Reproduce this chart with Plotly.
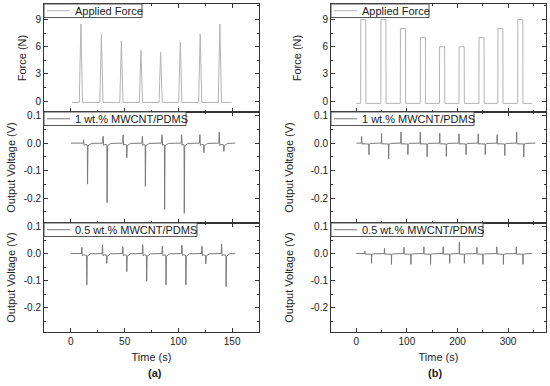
import plotly.graph_objects as go

# ---------------- data ----------------
# (a) applied force: triangular peaks
a_force_peak_t = [9.3, 28.4, 47.0, 65.2, 83.5, 101.8, 120.3, 138.6]
a_force_peak_v = [8.5, 7.4, 6.6, 5.6, 5.4, 6.5, 7.4, 8.5]
a_force_span = [1.0, 149.4]
a_force_base = -0.15

# (a) 1 wt.% MWCNT/PDMS
a1_pos_t = [11.8, 30.0, 48.6, 66.5, 84.8, 103.0, 120.0, 138.0]
a1_pos_v = [0.012, 0.025, 0.030, 0.025, 0.030, 0.030, 0.031, 0.040]
a1_neg_t = [15.5, 33.7, 52.0, 69.3, 87.2, 105.5, 123.7, 142.3]
a1_neg_v = [-0.149, -0.216, -0.053, -0.157, -0.241, -0.255, -0.035, -0.030]
a1_span = [0.0, 152.8]

# (a) 0.5 wt.% MWCNT/PDMS
a05_pos_t = [10.2, 29.4, 48.3, 66.8, 85.1, 103.3, 121.9, 140.2]
a05_pos_v = [0.023, 0.032, 0.026, 0.033, 0.028, 0.031, 0.027, 0.036]
a05_neg_t = [14.8, 33.4, 52.0, 70.5, 88.5, 107.0, 125.5, 144.4]
a05_neg_v = [-0.116, -0.036, -0.067, -0.102, -0.116, -0.116, -0.038, -0.122]
a05_span = [0.0, 152.8]

# (b) applied force: square pulses
b_pulse_start = [8.6, 48.5, 87.0, 126.5, 164.4, 203.0, 242.4, 279.7, 319.0]
b_pulse_end = [19.0, 58.8, 97.6, 137.0, 175.0, 213.6, 252.8, 290.0, 329.5]
b_pulse_v = [9, 9, 8, 7, 6, 6, 7, 8, 9]
b_force_span = [0.0, 347.7]
b_force_base = -0.25

# (b) 1 wt.% MWCNT/PDMS
b1_pos_t = [10.6, 49.9, 88.4, 126.5, 165.0, 203.0, 241.0, 278.4, 317.0]
b1_pos_v = [0.024, 0.036, 0.040, 0.040, 0.036, 0.034, 0.034, 0.030, 0.040]
b1_neg_t = [25.0, 64.0, 102.0, 140.0, 178.0, 217.0, 255.0, 293.5, 331.0]
b1_neg_v = [-0.042, -0.057, -0.042, -0.050, -0.048, -0.042, -0.042, -0.045, -0.050]
b1_span = [0.0, 354.0]

# (b) 0.5 wt.% MWCNT/PDMS
b05_pos_t = [17.1, 55.7, 94.3, 133.6, 171.7, 203.7, 238.5, 277.8, 316.3]
b05_pos_v = [0.009, 0.020, 0.023, 0.025, 0.025, 0.042, 0.023, 0.025, 0.025]
b05_neg_t = [30.2, 69.5, 108.0, 146.8, 184.7, 213.6, 250.3, 290.8, 329.5]
b05_neg_v = [-0.036, -0.040, -0.040, -0.040, -0.036, -0.036, -0.040, -0.040, -0.040]
b05_span = [0.0, 347.8]

force_ticks = [0, 3, 6, 9]
volt_ticks = [-0.2, -0.1, 0.0, 0.1]
volt_ticktext = ["-0.2", "-0.1", "0.0", "0.1"]
a_time_ticks = [0, 50, 100, 150]
b_time_ticks = [0, 100, 200, 300]


# ---------------- helpers to build polylines ----------------
def tri_force(peak_t, peak_v, span, base, hw=1.5):
    xs, ys = [span[0]], [base]
    for t, v in zip(peak_t, peak_v):
        xs += [t - hw, t, t + hw]
        ys += [base, v, base]
    xs.append(span[1]); ys.append(base)
    return xs, ys


def pulse_force(starts, ends, vals, span, base):
    xs, ys = [span[0]], [base]
    for s, e, v in zip(starts, ends, vals):
        xs += [s, s + 0.3, e - 0.3, e]
        ys += [base, v, v, base]
    xs.append(span[1]); ys.append(base)
    return xs, ys


def voltage(pos_t, pos_v, neg_t, neg_v, span, dip=-0.008):
    xs, ys = [span[0]], [0.0]
    for tp, vp, tn, vn in zip(pos_t, pos_v, neg_t, neg_v):
        gap = tn - tp
        xs += [tp - 0.4, tp, tp + 0.5, tp + min(1.5, gap * 0.4), tn - 0.2, tn, tn + 0.4, tn + 3.5]
        ys += [0.0, vp, dip, dip * 0.6, dip * 0.8, vn, dip * 1.2, -0.001]
    xs.append(span[1]); ys.append(0.0)
    return xs, ys


FORCE_COL = "#b4b4b4"
VOLT_COL = "#7a7a7a"
FONT = "Liberation Sans, Arial, sans-serif"
W, H = 550, 386

fig = go.Figure()

traces = [
    ("x", "y", *tri_force(a_force_peak_t, a_force_peak_v, a_force_span, a_force_base), "Applied Force", FORCE_COL),
    ("x2", "y2", *voltage(a1_pos_t, a1_pos_v, a1_neg_t, a1_neg_v, a1_span), "1 wt.% MWCNT/PDMS", VOLT_COL),
    ("x3", "y3", *voltage(a05_pos_t, a05_pos_v, a05_neg_t, a05_neg_v, a05_span), "0.5 wt.% MWCNT/PDMS", VOLT_COL),
    ("x4", "y4", *pulse_force(b_pulse_start, b_pulse_end, b_pulse_v, b_force_span, b_force_base), "Applied Force", FORCE_COL),
    ("x5", "y5", *voltage(b1_pos_t, b1_pos_v, b1_neg_t, b1_neg_v, b1_span, dip=-0.004), "1 wt.% MWCNT/PDMS", VOLT_COL),
    ("x6", "y6", *voltage(b05_pos_t, b05_pos_v, b05_neg_t, b05_neg_v, b05_span, dip=-0.003), "0.5 wt.% MWCNT/PDMS", VOLT_COL),
]

for xa, ya, xs, ys, name, col in traces:
    fig.add_trace(go.Scatter(x=xs, y=ys, mode="lines", name=name, xaxis=xa, yaxis=ya,
                             line=dict(color=col, width=1), showlegend=False))

# domains (pixels -> paper)
xdom_px = [[44, 259], [331, 546]]
ydom_px = [[4, 112], [112, 223], [223, 332]]
xdom = [[a / W, b / W] for a, b in xdom_px]
ydoms = [[1 - b / H, 1 - a / H] for a, b in ydom_px]

axis_common = dict(showline=True, linecolor="#333333", linewidth=1, mirror="ticks",
                   ticks="inside", ticklen=4, tickcolor="#333333", showgrid=False, zeroline=False,
                   automargin=False, tickfont=dict(family=FONT, size=10, color="#222222"))
minor_x = dict(ticks="inside", ticklen=2, tickcolor="#333333")

layout = dict(
    width=W, height=H, margin=dict(l=0, r=0, t=0, b=0),
    paper_bgcolor="white", plot_bgcolor="white", font=dict(family=FONT, color="#222222"),
    showlegend=False,
)

# x axes
for i, (rng, ticks, mdt) in enumerate([([-25, 175], a_time_ticks, 25), ([-50, 375], b_time_ticks, 50)]):
    for j in range(3):
        k = i * 3 + j + 1
        name = "xaxis" if k == 1 else f"xaxis{k}"
        yname = "y" if k == 1 else f"y{k}"
        ax = dict(axis_common, domain=xdom[i], range=rng, anchor=yname, tickvals=ticks,
                  minor=dict(minor_x, dtick=mdt), showticklabels=(j == 2))
        if j == 2:
            ax["title"] = dict(text="Time (s)", font=dict(family=FONT, size=11), standoff=7)
        layout[name] = ax

# y axes
for i in range(2):
    for j in range(3):
        k = i * 3 + j + 1
        name = "yaxis" if k == 1 else f"yaxis{k}"
        xname = "x" if k == 1 else f"x{k}"
        if j == 0:
            so = 6 if i == 0 else 18
            ax = dict(axis_common, domain=ydoms[j], range=[-1.2, 10.7], anchor=xname,
                      tickvals=force_ticks, minor=dict(minor_x, dtick=1.5),
                      title=dict(text="Force (N)", font=dict(family=FONT, size=11), standoff=so))
        else:
            so = 5 if i == 0 else 14
            ax = dict(axis_common, domain=ydoms[j], range=[-0.29, 0.113], anchor=xname,
                      tickvals=volt_ticks, ticktext=volt_ticktext, minor=dict(minor_x, dtick=0.05),
                      title=dict(text="Output Voltage (V)", font=dict(family=FONT, size=11), standoff=so))
        layout[name] = ax

fig.update_layout(**layout)

# legend boxes (one per panel, top-left corner), drawn as shape + sample line + text
legend_right_px = [[142, 186, 197], [429, 474, 483]]
legend_labels = ["Applied Force", "1 wt.% MWCNT/PDMS", "0.5 wt.% MWCNT/PDMS"]
legend_cols = [FORCE_COL, VOLT_COL, VOLT_COL]
for i in range(2):
    for j in range(3):
        x0 = xdom_px[i][0]
        x1 = legend_right_px[i][j]
        y0 = ydom_px[j][0]
        y1 = y0 + 13.5
        ym = (y0 + y1) / 2
        fig.add_shape(type="rect", xref="paper", yref="paper",
                      x0=x0 / W, x1=x1 / W, y0=1 - y1 / H, y1=1 - y0 / H,
                      line=dict(color="#555555", width=1), fillcolor="white", layer="above")
        fig.add_shape(type="line", xref="paper", yref="paper",
                      x0=(x0 + 3) / W, x1=(x0 + 26) / W, y0=1 - ym / H, y1=1 - ym / H,
                      line=dict(color=legend_cols[j], width=1), layer="above")
        fig.add_annotation(text=legend_labels[j], xref="paper", yref="paper",
                           x=(x0 + 28.5) / W, y=1 - (ym + 0.5) / H, xanchor="left", yanchor="middle",
                           showarrow=False, font=dict(family=FONT, size=11, color="#222222"))

fig.add_annotation(text="<b>(a)</b>", x=155 / W, y=1 - 373 / H, xref="paper", yref="paper",
                   xanchor="center", yanchor="middle",
                   showarrow=False, font=dict(family=FONT, size=11))
fig.add_annotation(text="<b>(b)</b>", x=435 / W, y=1 - 373 / H, xref="paper", yref="paper",
                   xanchor="center", yanchor="middle",
                   showarrow=False, font=dict(family=FONT, size=11))

fig.write_html("out.html", config={"displayModeBar": False},
               post_script="document.body.style.margin='0';")
